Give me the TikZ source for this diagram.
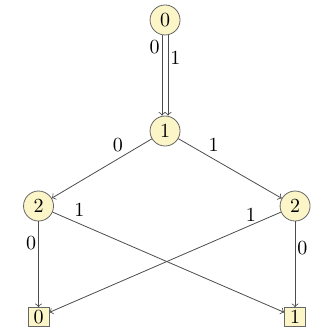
\documentclass[tikz,border=0pt]{standalone}
\usepackage[svgnames, dvipsnames]{xcolor}
\usetikzlibrary{calc, arrows.meta}
\tikzset{>=to}
\definecolor{nodefill}{RGB}{252,245,200}
\tikzset{
  bddnode/.style={circle, draw=black!60, fill=nodefill, minimum size=15pt, inner sep=0pt},
  bddleaf/.style={rectangle, draw=black!60, fill=nodefill, minimum width=10.5pt, minimum height=9.5pt, inner sep=0pt},
  bddedge/.style={->, draw=black!70}
}

\begin{document}
\begin{tikzpicture}
\useasboundingbox (-2.900,-3.602) rectangle (2.829,2.302);
\node[bddnode] (n0) at (0,1.951) {0};
\node[bddnode] (n1) at (0,0) {1};
\node[bddnode] (n2l) at (-2.223,-1.318) {2};
\node[bddnode] (n2r) at (2.285,-1.318) {2};
\node[bddleaf] (b0) at (-2.223,-3.269) {0};
\node[bddleaf] (b1) at (2.285,-3.269) {1};
\draw[bddedge] ([xshift=-1.5pt]n0.south) -- node[left,inner sep=1pt,pos=.15]{0} ([xshift=-1.5pt]n1.north);
\draw[bddedge] ([xshift=1.5pt]n0.south) -- node[right,inner sep=1pt,pos=.28]{1} ([xshift=1.5pt]n1.north);
\draw[bddedge] (n1) -- node[above,pos=.34]{0} (n2l);
\draw[bddedge] (n1) -- node[above,pos=.34]{1} (n2r);
\draw[bddedge] (n2l) -- node[left,inner sep=1pt,pos=.25]{0} (b0);
\draw[bddedge] (n2l) -- node[above,pos=.115]{1} (b1);
\draw[bddedge] (n2r) -- node[right,inner sep=1pt,pos=.31]{0} (b1);
\draw[bddedge] (n2r) -- node[above,inner sep=1.5pt,pos=.13]{1} (b0);
\end{tikzpicture}
\end{document}
